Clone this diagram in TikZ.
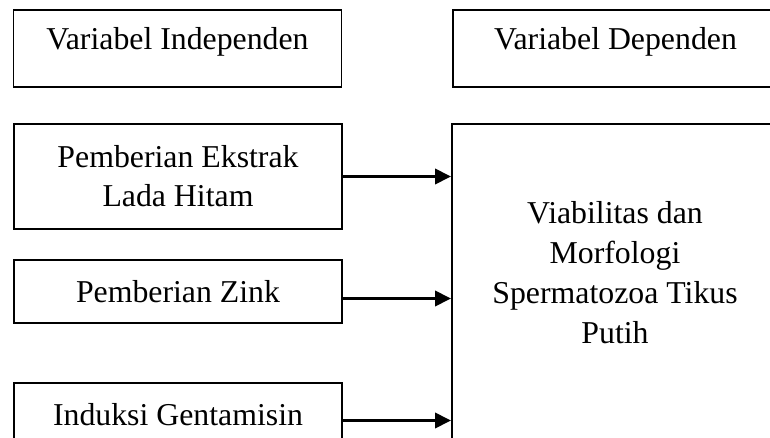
\documentclass[tikz,border=0pt]{standalone}
\usepackage{fontspec}
\setmainfont{Liberation Serif}
\usetikzlibrary{arrows.meta, calc}

\begin{document}
\begin{tikzpicture}[x=1pt, y=-1pt,
  box/.style={rectangle, draw=black, line width=1.9pt, minimum width=328pt, align=center, inner sep=0pt, font=\fontsize{31.8}{39}\selectfont},
  headbox/.style={box, minimum height=77pt, text depth=20pt},
  arrow/.style={-{Triangle[length=16pt, width=15pt]}, line width=3.6pt}
]
  \clip (0,0) rectangle (770,438);

  % Headers
  \node[headbox] (indep) at (177.5,48.5) {Variabel Independen};
  \node[headbox, minimum width=325pt] (deplabel) at (615.5,48.5) {Variabel Dependen};

  % Independent variables
  \node[box, minimum height=105pt] (ekstrak) at (178,176.5) {Pemberian Ekstrak\\Lada Hitam};
  \node[box, minimum height=63pt] (zink) at (178,291.5) {Pemberian Zink};
  \node[box, minimum height=63pt] (genta) at (178,414.5) {Induksi Gentamisin};

  % Dependent variable
  \node[box, minimum width=326pt, minimum height=326pt] (dep) at (615,287) {};
  \node[align=center, font=\fontsize{31.8}{40}\selectfont] (deptext) at ([yshift=14pt]dep.center) {Viabilitas dan\\Morfologi\\Spermatozoa Tikus\\Putih};

  % Arrows
  \draw[arrow] (ekstrak.east) -- (ekstrak.east -| dep.west);
  \draw[arrow] ($(zink.east)+(0,7)$) -- ($(zink.east -| dep.west)+(0,7)$);
  \draw[arrow] ($(genta.east)+(0,6)$) -- ($(genta.east -| dep.west)+(0,6)$);
\end{tikzpicture}
\end{document}
